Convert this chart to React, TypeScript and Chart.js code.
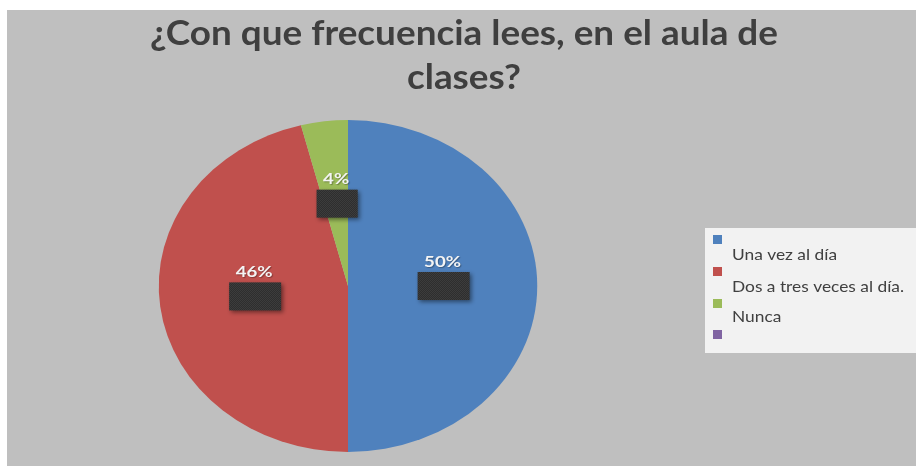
import React, { useEffect, useRef } from "react";
import { Chart, registerables } from "chart.js";

Chart.register(...registerables);

const categories = ["Una vez al día", "Dos a tres veces al día.", "Nunca", ""];
const values = [50, 46, 4, 0];
const colors = ["#4f81bd", "#c0504d", "#9bbb59", "#8064a2"];
const titleLines = ["¿Con que frecuencia lees, en el aula de", "clases?"];

const W = 909;
const H = 456;
const SX = 1.14; // horizontal stretch of the picture

function drawFitText(ctx: CanvasRenderingContext2D, text: string, x: number, y: number, sx: number, align: "left" | "center") {
  ctx.save();
  ctx.translate(x, y);
  ctx.scale(sx, 1);
  ctx.textAlign = align;
  ctx.fillText(text, 0, 0);
  ctx.restore();
}

const stretchPlugin = {
  id: "stretch",
  beforeDatasetsDraw(chart: any) {
    const ctx = chart.ctx;
    const meta = chart.getDatasetMeta(0);
    const cx = meta.data[0] ? meta.data[0].x : 0;
    ctx.save();
    ctx.translate(cx, 0);
    ctx.scale(SX, 1);
    ctx.translate(-cx, 0);
  },
  afterDatasetsDraw(chart: any) {
    chart.ctx.restore();
  },
};

const bgPlugin = {
  id: "bg",
  beforeDraw(chart: any) {
    const ctx = chart.ctx;
    ctx.save();
    ctx.fillStyle = "#bfbfbf";
    ctx.fillRect(0, 0, chart.width, chart.height);
    ctx.restore();
  },
};

const decorPlugin = {
  id: "decor",
  afterDraw(chart: any) {
    const ctx: CanvasRenderingContext2D = chart.ctx;
    // Title
    ctx.save();
    ctx.fillStyle = "#3f3f3f";
    ctx.textBaseline = "alphabetic";
    ctx.font = "bold 34px Lato";
    const w1 = ctx.measureText(titleLines[0]).width;
    const tsx = 628 / w1;
    drawFitText(ctx, titleLines[0], 457, 35, tsx, "center");
    drawFitText(ctx, titleLines[1], 457, 79, tsx, "center");
    ctx.restore();

    // Data labels
    const meta = chart.getDatasetMeta(0);
    const total = values.reduce((a, b) => a + b, 0);
    const pat = document.createElement("canvas");
    pat.width = 2;
    pat.height = 2;
    const pctx = pat.getContext("2d")!;
    pctx.fillStyle = "#3c3c3c";
    pctx.fillRect(0, 0, 2, 2);
    pctx.fillStyle = "#2e2e2e";
    pctx.fillRect(0, 0, 1, 1);
    pctx.fillRect(1, 1, 1, 1);
    const pattern = ctx.createPattern(pat, "repeat");
    ctx.save();
    ctx.font = "bold 15px Lato";
    const lsx = 37 / ctx.measureText("50%").width;
    meta.data.forEach((arc: any, i: number) => {
      if (!values[i]) return;
      const p = arc.getProps(["x", "y", "startAngle", "endAngle", "outerRadius"], true);
      const mid = (p.startAngle + p.endAngle) / 2;
      const r = p.outerRadius * 0.5;
      const px = p.x + Math.cos(mid) * r * SX;
      const py = p.y + Math.sin(mid) * r;
      const label = Math.round((values[i] / total) * 100) + "%";
      const tw = ctx.measureText(label).width * lsx;
      const bw = tw + 15;
      ctx.save();
      ctx.shadowColor = "rgba(0,0,0,0.45)";
      ctx.shadowBlur = 4;
      ctx.shadowOffsetX = 2;
      ctx.shadowOffsetY = 2;
      ctx.fillStyle = pattern || "#363636";
      ctx.fillRect(px + 1 - bw / 2, py - 14, bw, 28);
      ctx.restore();
      ctx.save();
      ctx.fillStyle = "#f4f4f4";
      ctx.textBaseline = "middle";
      ctx.shadowColor = "rgba(0,0,0,0.3)";
      ctx.shadowBlur = 1;
      ctx.shadowOffsetX = 1;
      ctx.shadowOffsetY = 1;
      drawFitText(ctx, label, px, py - 24, lsx, "center");
      ctx.restore();
    });
    ctx.restore();

    // Legend
    ctx.save();
    ctx.fillStyle = "#f2f2f2";
    ctx.fillRect(698, 218, 211, 125);
    ctx.font = "15px Lato";
    const gsx = 172 / ctx.measureText(categories[1]).width;
    const boxYs = [225, 257, 289, 320];
    const textYs = [245, 277, 307, 339];
    categories.forEach((c, i) => {
      ctx.fillStyle = colors[i];
      ctx.fillRect(706, boxYs[i], 9, 9);
      if (c) {
        ctx.fillStyle = "#404040";
        ctx.textBaseline = "middle";
        drawFitText(ctx, c, 725, textYs[i], gsx, "left");
      }
    });
    ctx.restore();
  },
};

export default function App() {
  const ref = useRef<HTMLCanvasElement>(null);
  useEffect(() => {
    const canvas = ref.current!;
    const chart = new Chart(canvas, {
      type: "pie",
      data: {
        labels: categories,
        datasets: [
          {
            data: values,
            backgroundColor: colors,
            borderWidth: 0,
            hoverOffset: 0,
            clip: false as any,
          },
        ],
      },
      options: {
        responsive: false,
        animation: false,
        devicePixelRatio: 1,
        layout: { padding: { top: 110, bottom: 14, left: 175, right: 402 } },
        plugins: {
          legend: { display: false },
          title: { display: false },
          tooltip: { enabled: false },
        },
        events: [],
      },
      plugins: [bgPlugin, stretchPlugin, decorPlugin],
    });
    return () => chart.destroy();
  }, []);
  return (
    <div style={{ position: "absolute", left: 0, top: 0, width: 916, height: 466, background: "#ffffff" }}>
      <canvas ref={ref} width={W} height={H} style={{ position: "absolute", left: 7, top: 10, width: W, height: H }} />
    </div>
  );
}
